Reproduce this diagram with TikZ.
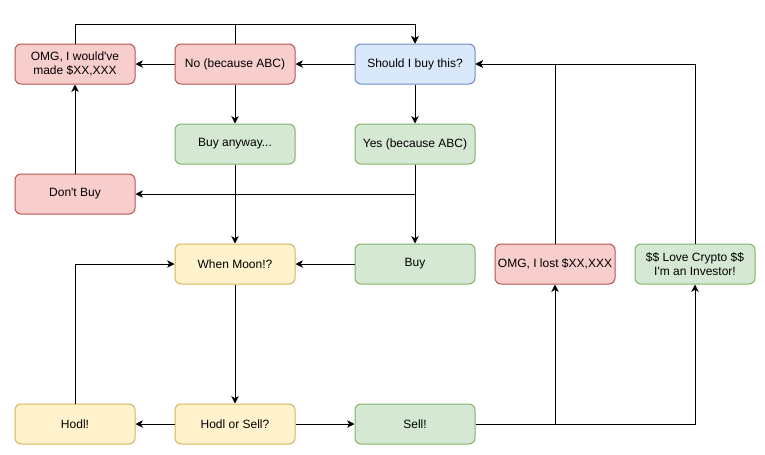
\documentclass[tikz,border=0pt]{standalone}
\usepackage{fontspec}
\setmainfont{Liberation Sans}
\usetikzlibrary{arrows.meta}
\definecolor{rfill}{HTML}{F8CECC}\definecolor{rdraw}{HTML}{B85450}
\definecolor{gfill}{HTML}{D5E8D4}\definecolor{gdraw}{HTML}{82B366}
\definecolor{bfill}{HTML}{DAE8FC}\definecolor{bdraw}{HTML}{6C8EBF}
\definecolor{yfill}{HTML}{FFF2CC}\definecolor{ydraw}{HTML}{D6B656}
\tikzset{
  box/.style={rectangle, rounded corners=4.5pt, minimum width=90pt, minimum height=30pt,
    inner sep=1pt, line width=0.75pt, align=center, font=\fontsize{9pt}{10.5pt}\selectfont},
  redbox/.style={box, fill=rfill, draw=rdraw},
  greenbox/.style={box, fill=gfill, draw=gdraw},
  bluebox/.style={box, fill=bfill, draw=bdraw},
  yellowbox/.style={box, fill=yfill, draw=ydraw},
  arr/.style={-{Stealth[length=5.5pt,width=5.5pt,inset=1.5pt]}, line width=0.75pt, black},
  ln/.style={line width=0.75pt, black}
}
\begin{document}
\begin{tikzpicture}[x=0.75pt,y=-0.75pt]
\useasboundingbox[fill=white] (0,0) rectangle (765,454);
\node[redbox] (omg) at (75,64) {OMG, I would\textquotesingle ve\\made \$XX,XXX};
\node[redbox] (no) at (235,64) {No (because ABC)};
\node[bluebox] (should) at (415,64) {Should I buy this?};
\node[greenbox] (anyway) at (235,144) {Buy anyway...};
\node[greenbox] (yes) at (415,144) {Yes (because ABC)};
\node[redbox] (dont) at (75,194) {Don\textquotesingle t Buy};
\node[yellowbox] (moon) at (235,264) {When Moon!?};
\node[greenbox] (buy) at (415,264) {Buy};
\node[redbox] (lost) at (555,264) {OMG, I lost \$XX,XXX};
\node[greenbox] (love) at (695,264) {\$\$ Love Crypto \$\$\\I\textquotesingle m an Investor!};
\node[yellowbox] (hodl) at (75,424) {Hodl!};
\node[yellowbox] (hos) at (235,424) {Hodl or Sell?};
\node[greenbox] (sell) at (415,424) {Sell!};
\coordinate (top) at (415,24);

\draw[arr] (omg.north) |- (top) -- (should.north);
\draw[arr] (no.north) |- (top) -- (should.north);
\draw[arr] (should) -- (no);
\draw[arr] (no) -- (omg);
\draw[arr] (no) -- (anyway);
\draw[arr] (should) -- (yes);
\draw[arr] (yes.south) |- (dont.east);
\draw[arr] (yes) -- (buy);
\draw[arr] (dont) -- (omg);
\draw[arr] (anyway) -- (moon);
\draw[arr] (buy) -- (moon);
\draw[arr] (moon) -- (hos);
\draw[arr] (hos) -- (hodl);
\draw[arr] (hos) -- (sell);
\draw[arr] (hodl.north) |- (moon.west);
\draw[arr] (sell.east) -| (lost.south);
\draw[arr] (sell.east) -| (love.south);
\draw[arr] (lost.north) |- (should.east);
\draw[arr] (love.north) |- (should.east);
\end{tikzpicture}
\end{document}
